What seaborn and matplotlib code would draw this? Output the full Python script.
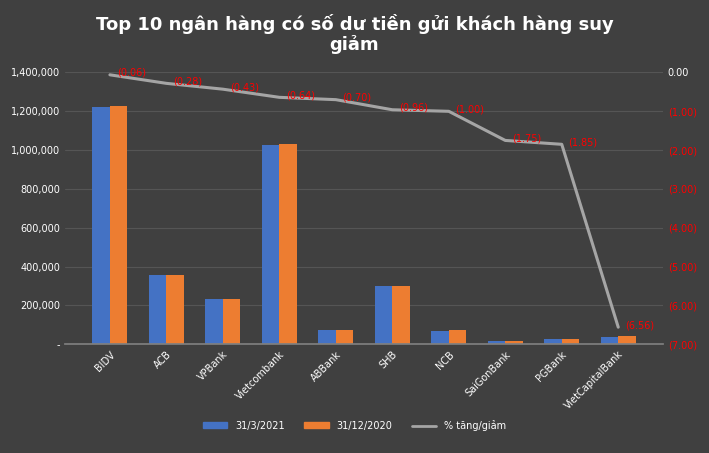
import numpy as np
import pandas as pd
import seaborn as sns
import matplotlib.pyplot as plt
from matplotlib.ticker import FuncFormatter
from matplotlib.patches import Patch
from matplotlib.lines import Line2D

banks = ['BIDV', 'ACB', 'VPBank', 'Vietcombank', 'ABBank', 'SHB', 'NCB',
         'SaiGonBank', 'PGBank', 'VietCapitalBank']
q1_2021 = [1222000, 355000, 232000, 1025000, 73000, 300000, 68000, 17000, 28000, 38000]
end_2020 = [1225000, 355000, 233000, 1030000, 73000, 300000, 72000, 17000, 28000, 43000]
pct_change = [-0.06, -0.28, -0.43, -0.64, -0.70, -0.96, -1.00, -1.75, -1.85, -6.56]

df = pd.DataFrame({'bank': banks * 2,
                   'value': q1_2021 + end_2020,
                   'series': ['31/3/2021'] * 10 + ['31/12/2020'] * 10})

bg = '#404040'
sns.set_theme(style='dark')
plt.rcParams['font.family'] = ['DejaVu Sans']

fig = plt.figure(figsize=(7.09, 4.53), dpi=100, facecolor=bg)
ax = fig.add_axes([0.092, 0.24, 0.843, 0.60])
ax.set_facecolor(bg)

sns.barplot(data=df, x='bank', y='value', hue='series', ax=ax,
            palette=['#4472C4', '#ED7D31'], width=0.62, saturation=1, legend=False)
for p in ax.patches:
    p.set_edgecolor('none')

ax.set_ylim(0, 1400000)
ax.set_yticks(np.arange(0, 1400001, 200000))
ax.yaxis.set_major_formatter(FuncFormatter(lambda v, _: '-' if v == 0 else f'{v:,.0f}'))
ax.grid(axis='y', color='#555555', linewidth=0.8)
ax.set_axisbelow(True)
ax.tick_params(axis='y', colors='white', labelsize=7, length=0)
ax.tick_params(axis='x', colors='white', labelsize=7, length=0, rotation=45)
for t in ax.get_xticklabels():
    t.set_ha('right')
    t.set_rotation_mode('anchor')
ax.set_xlabel('')
ax.set_ylabel('')
for s in ax.spines.values():
    s.set_visible(False)
ax.spines['bottom'].set_visible(True)
ax.spines['bottom'].set_color('#7f7f7f')

ax2 = ax.twinx()
x = np.arange(len(banks))
ax2.plot(x, pct_change, color='#a5a5a5', linewidth=2.2)
ax2.set_ylim(-7, 0)
ax2.set_yticks(np.arange(-7, 0.1, 1))
ax2.yaxis.set_major_formatter(FuncFormatter(lambda v, _: '0.00' if v == 0 else f'({abs(v):.2f})'))
ax2.tick_params(axis='y', labelsize=7, length=0)
for t, v in zip(ax2.get_yticklabels(), np.arange(-7, 0.1, 1)):
    t.set_color('white' if v == 0 else 'red')
for s in ax2.spines.values():
    s.set_visible(False)
ax2.grid(False)
for xi, v in zip(x, pct_change):
    ax2.text(xi + 0.12, v + 0.05, f'({abs(v):.2f})', color='red', fontsize=7, va='center')

fig.suptitle('Top 10 ngân hàng có số dư tiền gửi khách hàng suy\ngiảm',
             color='white', fontsize=13, fontweight='bold', y=0.97, linespacing=1.1)

handles = [Patch(color='#4472C4', label='31/3/2021'),
           Patch(color='#ED7D31', label='31/12/2020'),
           Line2D([0], [0], color='#a5a5a5', lw=2, label='% tăng/giảm')]
fig.legend(handles=handles, loc='lower center', ncol=3, frameon=False,
           fontsize=7, labelcolor='white', bbox_to_anchor=(0.5, 0.03),
           handlelength=2.5, handleheight=0.5)

fig.savefig('out.png', dpi=100, facecolor=bg)
